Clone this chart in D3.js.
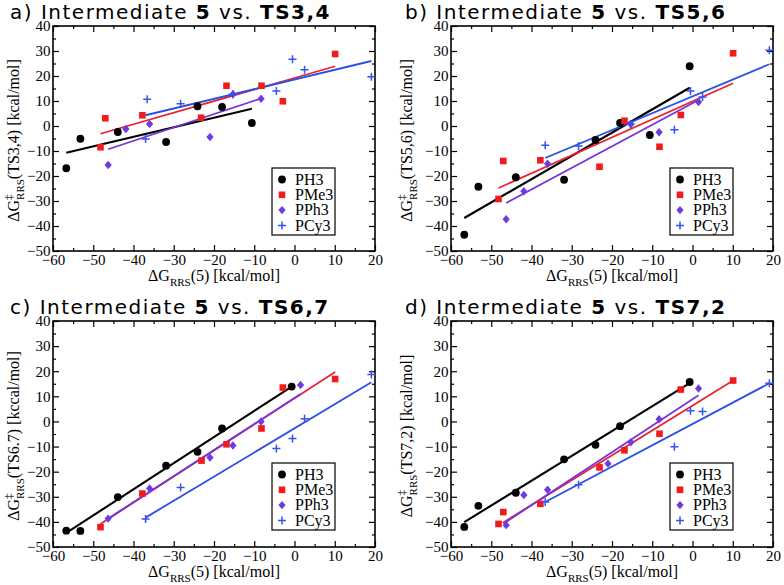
<!DOCTYPE html>
<html><head><meta charset="utf-8">
<script src="https://cdn.jsdelivr.net/npm/d3@7"></script>
<style>body{margin:0;background:#fff}</style>
</head><body>
<svg id="chart" width="784" height="585"></svg>
<script>
// ---------- data ----------
const seriesNames = ["PH3", "PMe3", "PPh3", "PCy3"];
const xTickValues = [-60, -50, -40, -30, -20, -10, 0, 10, 20];
const yTickValues = [-50, -40, -30, -20, -10, 0, 10, 20, 30, 40];
const panelLetters = ["a)", "b)", "c)", "d)"];
const panelTS = ["TS3,4", "TS5,6", "TS6,7", "TS7,2"];
const yLabelTS = ["(TS3,4)", "(TS5,6)", "(TS6.7)", "(TS7,2)"];
const yLabelUnits = ["[kcal/mol]", "[kcal/mol]", "[kccal/mol]", "[kcal/mol]"];

// panel a: TS3,4
const aPH3 = [[-56.7,-16.9],[-53.2,-5.1],[-43.9,-2.4],[-31.9,-6.4],[-24.1,7.9],[-18.0,7.6],[-10.6,1.2]];
const aPMe3 = [[-48.2,-8.5],[-47.0,3.1],[-37.8,4.3],[-23.2,3.3],[-16.9,16.1],[-8.2,16.1],[-2.9,9.9],[10.1,28.8]];
const aPPh3 = [[-46.3,-15.6],[-41.9,-1.2],[-36.0,0.8],[-21.0,-4.4],[-15.3,12.7],[-8.3,10.9]];
const aPCy3 = [[-36.6,10.7],[-37.0,-5.2],[-28.3,8.9],[-15.3,12.7],[-4.5,14.0],[-0.5,26.7],[2.5,22.5],[19.1,19.7]];
const aFits = [[-56.7,-10.7,-10.6,6.9],[-48.2,-3.1,10.1,23.9],[-46.3,-9.3,-8.5,10.9],[-37.0,4.3,19.1,26.0]];

// panel b: TS5,6
const bPH3 = [[-56.7,-43.5],[-53.2,-24.3],[-43.9,-20.5],[-31.9,-21.5],[-24.1,-5.6],[-18.0,1.2],[-10.6,-3.6],[-0.7,23.9]];
const bPMe3 = [[-48.2,-29.2],[-47.0,-14.0],[-37.8,-13.7],[-23.1,-16.3],[-16.9,2.1],[-8.2,-8.3],[-2.9,4.4],[10.1,29.1]];
const bPPh3 = [[-46.3,-37.3],[-41.9,-26.1],[-36.0,-15.1],[-15.3,0.7],[-8.3,-2.5],[1.5,9.6]];
const bPCy3 = [[-36.6,-7.7],[-28.3,-8.0],[-15.4,0.8],[-4.5,-1.5],[-0.5,14.0],[2.5,11.6],[19.1,30.3]];
const bFits = [[-56.7,-36.8,-0.7,15.3],[-48.2,-24.8,10.1,17.1],[-46.3,-30.8,1.5,10.4],[-36.6,-12.8,19.1,24.7]];

// panel c: TS6,7
const cPH3 = [[-56.7,-43.5],[-53.2,-43.6],[-43.9,-30.1],[-31.9,-17.6],[-24.1,-12.1],[-18.0,-2.8],[-0.7,13.9]];
const cPMe3 = [[-48.2,-42.1],[-37.8,-28.7],[-23.1,-15.6],[-16.9,-9.1],[-8.2,-2.8],[-2.9,13.5],[10.1,16.9]];
const cPPh3 = [[-46.3,-38.7],[-36.0,-26.7],[-21.0,-14.4],[-15.3,-9.6],[-8.3,0.0],[1.5,14.5]];
const cPCy3 = [[-37.0,-38.8],[-28.3,-26.3],[-4.5,-10.8],[-0.5,-6.8],[2.5,1.1],[19.1,18.7]];
const cFits = [[-56.7,-44.4,-0.7,13.9],[-48.2,-40.8,10.1,19.7],[-46.3,-38.7,1.5,10.9],[-37.0,-38.3,19.1,15.6]];

// panel d: TS7,2
const dPH3 = [[-56.7,-42.0],[-53.2,-33.6],[-43.9,-28.4],[-31.9,-15.1],[-24.1,-9.3],[-18.0,-1.9],[-0.7,15.7]];
const dPMe3 = [[-48.2,-40.8],[-47.0,-36.1],[-37.8,-32.8],[-23.1,-18.3],[-16.9,-11.5],[-8.2,-4.9],[-2.9,12.7],[10.1,16.3]];
const dPPh3 = [[-46.3,-41.3],[-41.9,-29.3],[-36.0,-27.2],[-21.0,-16.8],[-15.3,-8.3],[-8.3,0.9],[1.5,13.1]];
const dPCy3 = [[-36.6,-32.1],[-28.3,-25.2],[-4.5,-10.1],[-0.5,4.3],[2.5,4.0],[19.1,15.2]];
const dFits = [[-56.7,-40.1,-0.7,15.3],[-47.2,-40.4,10.1,16.3],[-46.7,-40.4,1.5,10.4],[-36.6,-32.1,19.1,15.2]];

// ---------- styling / layout ----------
const panelSeries = [[aPH3,aPMe3,aPPh3,aPCy3],[bPH3,bPMe3,bPPh3,bPCy3],[cPH3,cPMe3,cPPh3,cPCy3],[dPH3,dPMe3,dPPh3,dPCy3]];
const panelFits = [aFits, bFits, cFits, dFits];
const layout = [
  {l:53, t:26, r:375, b:251, titleX:10, ylabX:18.5},
  {l:451, t:26, r:773, b:251, titleX:405, ylabX:412},
  {l:53, t:321, r:375, b:547, titleX:10, ylabX:18.5},
  {l:451, t:321, r:773, b:547, titleX:405, ylabX:412}
];
const markColors = ["#000000", "#f01c1c", "#6e3ae6", "#3454ec"];
const lineColors = ["#000000", "#ec2030", "#7434dc", "#2c50e4"];
const serif = "'Liberation Serif','Times New Roman',Times,serif";
const sans = "'DejaVu Sans',Verdana,sans-serif";

const svg = d3.select("#chart");

function measure(txt, size, family, weight) {
  const t = svg.append("text").attr("font-family", family).attr("font-size", size)
    .attr("font-weight", weight || "normal").text(txt);
  const w = t.node().getComputedTextLength();
  t.remove();
  return w;
}

function drawSymbol(g, type, x, y, color) {
  if (type === 0) {
    g.append("circle").attr("cx", x).attr("cy", y).attr("r", 3.9).attr("fill", color);
  } else if (type === 1) {
    g.append("rect").attr("x", x - 3.3).attr("y", y - 3.3).attr("width", 6.6).attr("height", 6.6).attr("fill", color);
  } else if (type === 2) {
    g.append("path").attr("d", `M${x},${y-4.2}L${x+3.6},${y}L${x},${y+4.2}L${x-3.6},${y}Z`).attr("fill", color);
  } else {
    g.append("path").attr("d", `M${x-4},${y}H${x+4}M${x},${y-4}V${y+4}`)
      .attr("stroke", color).attr("stroke-width", 1.5).attr("fill", "none");
  }
}

layout.forEach((L, pi) => {
  const x = d3.scaleLinear().domain([-60, 20]).range([L.l, L.r]);
  const y = d3.scaleLinear().domain([-50, 40]).range([L.b, L.t]);
  const g = svg.append("g");

  // title
  const title = g.append("text").attr("x", L.titleX).attr("y", L.t - 7.3)
    .attr("font-family", sans).attr("font-size", 20).attr("letter-spacing", 1.5).attr("fill", "#000");
  title.append("tspan").text(panelLetters[pi] + " Intermediate ");
  title.append("tspan").attr("font-weight", "bold").text("5");
  title.append("tspan").text(" vs. ");
  title.append("tspan").attr("font-weight", "bold").text(panelTS[pi]);

  // minor tick values
  const xMinor = xTickValues.slice(0, -1).map(v => v + 5);
  const yMinor = yTickValues.slice(0, -1).map(v => v + 5);

  g.append("g").attr("transform", `translate(0,${L.b})`)
    .call(d3.axisBottom(x).tickValues(xTickValues).tickSize(-6).tickPadding(3).tickFormat(d3.format("d")));
  g.append("g").attr("transform", `translate(0,${L.b})`).call(d3.axisBottom(x).tickValues(xMinor).tickSize(-3).tickFormat(""));
  g.append("g").attr("transform", `translate(0,${L.t})`).call(d3.axisTop(x).tickValues(xTickValues).tickSize(-6).tickFormat(""));
  g.append("g").attr("transform", `translate(0,${L.t})`).call(d3.axisTop(x).tickValues(xMinor).tickSize(-3).tickFormat(""));
  g.append("g").attr("transform", `translate(${L.l},0)`)
    .call(d3.axisLeft(y).tickValues(yTickValues).tickSize(-6).tickPadding(2.5).tickFormat(d3.format("d")));
  g.append("g").attr("transform", `translate(${L.l},0)`).call(d3.axisLeft(y).tickValues(yMinor).tickSize(-3).tickFormat(""));
  g.append("g").attr("transform", `translate(${L.r},0)`).call(d3.axisRight(y).tickValues(yTickValues).tickSize(-6).tickFormat(""));
  g.append("g").attr("transform", `translate(${L.r},0)`).call(d3.axisRight(y).tickValues(yMinor).tickSize(-3).tickFormat(""));
  g.selectAll(".domain").remove();
  g.selectAll(".tick line").attr("stroke", "#000").attr("stroke-width", 1.2);
  g.selectAll(".tick text").attr("font-family", serif).attr("font-size", 15).attr("fill", "#000");

  // frame
  g.append("rect").attr("x", L.l).attr("y", L.t).attr("width", L.r - L.l).attr("height", L.b - L.t)
    .attr("fill", "none").attr("stroke", "#000").attr("stroke-width", 1.6);

  // fit lines
  const lineG = g.append("g");
  panelFits[pi].forEach((f, si) => {
    lineG.append("line").attr("x1", x(f[0])).attr("y1", y(f[1])).attr("x2", x(f[2])).attr("y2", y(f[3]))
      .attr("stroke", lineColors[si]).attr("stroke-width", si === 0 ? 2.1 : 1.8);
  });

  // points
  const ptG = g.append("g");
  panelSeries[pi].forEach((pts, si) => {
    pts.forEach(p => drawSymbol(ptG, si, x(p[0]), y(p[1]), markColors[si]));
  });

  // legend
  const lx = L.l + 219, ly = L.t + 142;
  g.append("rect").attr("x", lx).attr("y", ly).attr("width", 63).attr("height", 67)
    .attr("fill", "#fff").attr("stroke", "#000").attr("stroke-width", 1.2);
  seriesNames.forEach((n, si) => {
    const ry = ly + 11.5 + si * 15.3;
    drawSymbol(g, si, lx + 10, ry, markColors[si]);
    g.append("text").attr("x", lx + 23).attr("y", ry + 5.2).attr("font-family", serif)
      .attr("font-size", 16).attr("fill", "#000").text(n);
  });

  // x label
  const xl = g.append("text").attr("x", (L.l + L.r) / 2).attr("y", L.b + 30)
    .attr("text-anchor", "middle").attr("font-family", serif).attr("font-size", 16).attr("fill", "#000");
  xl.append("tspan").text("ΔG");
  xl.append("tspan").attr("font-size", 11).attr("dy", 5).text("RRS");
  xl.append("tspan").attr("dy", -5).text("(5) [kcal/mol]");

  // y label
  const daggerW = measure("‡", 11, serif);
  const yg = g.append("g").attr("transform", `translate(${L.ylabX},${(L.t + L.b) / 2 + 2}) rotate(-90)`);
  const yl = yg.append("text").attr("x", 0).attr("y", 0).attr("text-anchor", "middle")
    .attr("font-family", serif).attr("font-size", 16).attr("fill", "#000");
  yl.append("tspan").text("ΔG");
  yl.append("tspan").attr("font-size", 11).attr("dy", -7).text("‡");
  yl.append("tspan").attr("font-size", 11).attr("dx", -daggerW).attr("dy", 12).text("RRS");
  yl.append("tspan").attr("dy", -5).text(yLabelTS[pi] + " " + yLabelUnits[pi]);
});
</script>
</body></html>
